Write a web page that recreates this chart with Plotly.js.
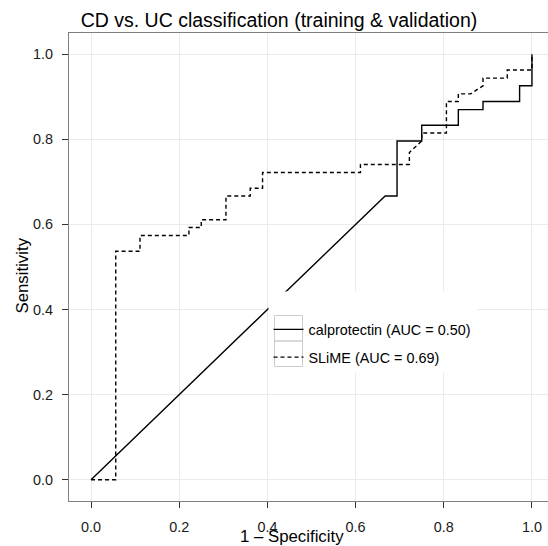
<!DOCTYPE html>
<html>
<head>
<meta charset="utf-8">
<script src="https://cdn.plot.ly/plotly-3.0.1.min.js"></script>
<style>
html, body { margin: 0; padding: 0; overflow: hidden; background: #fff; }
#chart { width: 554px; height: 546px; }
</style>
</head>
<body>
<div id="chart"></div>
<script>
// ROC curve data (1 - specificity, sensitivity)
var calprotectinX = [0, 0.667, 0.694, 0.694, 0.75, 0.75, 0.833, 0.833, 0.889, 0.889, 0.972, 0.972, 1, 1];
var calprotectinY = [0, 0.667, 0.667, 0.796, 0.796, 0.833, 0.833, 0.870, 0.870, 0.889, 0.889, 0.926, 0.926, 1];

var slimeX = [0, 0.056, 0.056, 0.111, 0.111, 0.222, 0.222, 0.25, 0.25, 0.306, 0.306, 0.361, 0.361, 0.389, 0.389, 0.611, 0.611, 0.722, 0.722, 0.75, 0.75, 0.806, 0.806, 0.833, 0.833, 0.861, 0.889, 0.889, 0.944, 0.944, 1, 1];
var slimeY = [0, 0, 0.537, 0.537, 0.574, 0.574, 0.593, 0.593, 0.611, 0.611, 0.667, 0.667, 0.685, 0.685, 0.722, 0.722, 0.741, 0.741, 0.769, 0.796, 0.815, 0.815, 0.889, 0.889, 0.907, 0.907, 0.926, 0.944, 0.944, 0.963, 0.963, 1];

var seriesNames = ["calprotectin (AUC = 0.50)", "SLiME (AUC = 0.69)"];
var tickValues = [0, 0.2, 0.4, 0.6, 0.8, 1.0];
var tickLabels = ["0.0", "0.2", "0.4", "0.6", "0.8", "1.0"];

var chartTitle = "CD vs. UC classification (training & validation)";
var xTitle = "1 \u2013 Specificity";
var yTitle = "Sensitivity";

var FONT = "Liberation Sans, Arial, Helvetica, sans-serif";

var traces = [
  {
    x: calprotectinX, y: calprotectinY, type: "scatter", mode: "lines",
    name: seriesNames[0], legendgroup: "a",
    line: { color: "#000000", width: 1.4, shape: "linear" }
  },
  {
    x: slimeX, y: slimeY, type: "scatter", mode: "lines",
    name: seriesNames[1], legendgroup: "b",
    line: { color: "#000000", width: 1.4, dash: "4px,3px", shape: "linear" }
  }
];

function px2x(p) { return (p - 69) / 485; }
function px2y(p) { return 1 - (p - 33) / 468; }

var axisCommon = {
  tickvals: tickValues, ticktext: tickLabels,
  showgrid: true, gridcolor: "#ebebeb", gridwidth: 1,
  zeroline: false,
  showline: true, linecolor: "#7f7f7f", linewidth: 1, mirror: true,
  ticks: "outside", ticklen: 6, tickwidth: 1, tickcolor: "#333333",
  tickfont: { family: FONT, size: 14.4, color: "#1a1a1a" }
};

var layout = {
  width: 554, height: 546,
  margin: { l: 69, r: 0, t: 33, b: 45 },
  paper_bgcolor: "#ffffff", plot_bgcolor: "#ffffff",
  font: { family: FONT, color: "#000000" },
  title: {
    text: chartTitle,
    font: { family: FONT, size: 19.5, color: "#000000" },
    x: 279 / 554, xanchor: "center",
    y: 1 - 20.5 / 546, yanchor: "middle"
  },
  xaxis: Object.assign({}, axisCommon, { range: [-0.05, 1.05], ticklabelstandoff: 7 }),
  yaxis: Object.assign({}, axisCommon, { range: [-0.05, 1.05], ticklabelstandoff: 6 }),
  showlegend: true,
  legend: {
    x: px2x(268.5), xanchor: "left",
    y: px2y(313.5), yanchor: "top",
    bgcolor: "rgba(0,0,0,0)", borderwidth: 0,
    font: { family: FONT, size: 14.4, color: "#000000" },
    traceorder: "grouped", tracegroupgap: 6
  },
  shapes: [
    { type: "rect", xref: "paper", yref: "paper", layer: "above",
      x0: px2x(268.5), x1: px2x(477), y0: px2y(372), y1: px2y(291.5),
      fillcolor: "#ffffff", line: { width: 0 } },
    { type: "rect", xref: "paper", yref: "paper", layer: "above",
      x0: px2x(274.5), x1: px2x(302.5), y0: px2y(341), y1: px2y(315.5),
      fillcolor: "rgba(0,0,0,0)", line: { color: "#cccccc", width: 1 } },
    { type: "rect", xref: "paper", yref: "paper", layer: "above",
      x0: px2x(274.5), x1: px2x(302.5), y0: px2y(366.5), y1: px2y(341),
      fillcolor: "rgba(0,0,0,0)", line: { color: "#cccccc", width: 1 } }
  ],
  annotations: [
    { text: xTitle, xref: "paper", yref: "paper", showarrow: false,
      x: px2x(292), y: px2y(536), xanchor: "center", yanchor: "middle",
      font: { family: FONT, size: 16.8, color: "#000000" } },
    { text: yTitle, xref: "paper", yref: "paper", showarrow: false, textangle: -90,
      x: px2x(21.5), y: px2y(276), xanchor: "center", yanchor: "middle",
      font: { family: FONT, size: 16.8, color: "#000000" } }
  ]
};

Plotly.newPlot("chart", traces, layout, { displayModeBar: false, staticPlot: true });
</script>
</body>
</html>
